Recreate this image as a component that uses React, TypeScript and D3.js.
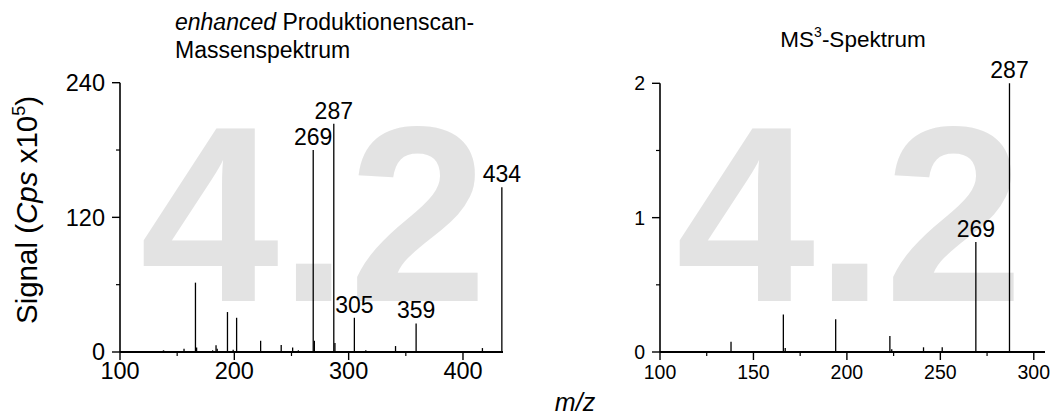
import React from "react";
import * as d3 from "d3";

// ---- data: enhanced product ion scan (left) ----
const leftMz = [138, 139, 156, 166, 167, 181, 184, 185, 194, 199, 202, 223, 241, 251, 256, 269, 270, 287, 288, 305, 315, 323, 341, 359, 373, 392, 417, 434];
const leftInt = [1.5, 1, 3, 61.8, 4, 1.5, 6, 3, 35.6, 2, 30.5, 10, 6.2, 4, 1.5, 180, 10, 203.5, 8, 30.5, 1.5, 1, 5.3, 25.5, 1, 1, 3.5, 146.8];
const leftLabels = [269, 287, 305, 359, 434];
const leftXTicks = [100, 200, 300, 400];
const leftXMinor = [150, 250, 350];
const leftYTicks = [0, 120, 240];
const leftYMinor = [60, 180];

// ---- data: MS3 spectrum (right) ----
const rightMz = [138, 166, 167, 194, 223, 224, 241, 251, 269, 287];
const rightInt = [0.077, 0.28, 0.03, 0.243, 0.119, 0.02, 0.035, 0.035, 0.818, 2.0];
const rightLabels = [269, 287];
const rightXTicks = [100, 150, 200, 250, 300];
const rightXMinor = [125, 175, 225, 275];
const rightYTicks = [0, 1, 2];
const rightYMinor = [0.5, 1.5];

const FONT = "'Liberation Sans', Arial, sans-serif";

type PanelProps = {
  mz: number[];
  inten: number[];
  labels: number[];
  xDomain: [number, number];
  xRange: [number, number];
  yDomain: [number, number];
  yRange: [number, number];
  xTicks: number[];
  xMinor: number[];
  yTicks: number[];
  yMinor: number[];
  tickFont: number;
  watermarkX: number;
};

function Panel(p: PanelProps) {
  const x = d3.scaleLinear().domain(p.xDomain).range(p.xRange);
  const y = d3.scaleLinear().domain(p.yDomain).range(p.yRange);
  const x0 = p.xRange[0];
  const y0 = p.yRange[0];
  const major = 8;
  const minor = 4;
  return (
    <g>
      <text x={p.watermarkX} y={301} fontSize={250} fontWeight="bold" fill="#e3e3e3" fontFamily={FONT}>4.2</text>
      {/* peaks */}
      {p.mz.map((m, i) => (
        <line key={"pk" + i} x1={x(m)} x2={x(m)} y1={y(0)} y2={y(p.inten[i])} stroke="#000" strokeWidth={1.3} />
      ))}
      {/* peak labels */}
      {p.labels.map((m) => {
        const idx = p.mz.indexOf(m);
        return (
          <text key={"lb" + m} x={x(m)} y={y(p.inten[idx]) - 5} textAnchor="middle" fontSize={23} fontFamily={FONT} fill="#000">{m}</text>
        );
      })}
      {/* axes */}
      <line x1={x0} x2={p.xRange[1]} y1={y0} y2={y0} stroke="#000" strokeWidth={2} />
      <line x1={x0} x2={x0} y1={y0} y2={p.yRange[1]} stroke="#000" strokeWidth={1.6} />
      {p.xTicks.map((t) => (
        <g key={"xt" + t}>
          <line x1={x(t)} x2={x(t)} y1={y0} y2={y0 + major} stroke="#000" strokeWidth={1.4} />
          <text x={x(t)} y={y0 + 27} textAnchor="middle" fontSize={p.tickFont} fontFamily={FONT}>{t}</text>
        </g>
      ))}
      {p.xMinor.map((t) => (
        <line key={"xm" + t} x1={x(t)} x2={x(t)} y1={y0} y2={y0 + minor} stroke="#000" strokeWidth={1.2} />
      ))}
      {p.yTicks.map((t) => (
        <g key={"yt" + t}>
          <line x1={x0 - major} x2={x0} y1={y(t)} y2={y(t)} stroke="#000" strokeWidth={1.4} />
          <text x={x0 - 15} y={y(t)} dy="0.36em" textAnchor="end" fontSize={p.tickFont} fontFamily={FONT}>{t}</text>
        </g>
      ))}
      {p.yMinor.map((t) => (
        <line key={"ym" + t} x1={x0 - minor} x2={x0} y1={y(t)} y2={y(t)} stroke="#000" strokeWidth={1.2} />
      ))}
    </g>
  );
}

export default function App() {
  return (
    <svg width={1052} height={414} style={{ position: "absolute", left: 0, top: 0, background: "#fff" }} fontFamily={FONT}>
      <rect width={1052} height={414} fill="#fff" />
      <Panel
        mz={leftMz} inten={leftInt} labels={leftLabels}
        xDomain={[100, 435]} xRange={[120, 503]}
        yDomain={[0, 240]} yRange={[352, 82.7]}
        xTicks={leftXTicks} xMinor={leftXMinor} yTicks={leftYTicks} yMinor={leftYMinor}
        tickFont={23.5} watermarkX={140}
      />
      <Panel
        mz={rightMz} inten={rightInt} labels={rightLabels}
        xDomain={[100, 306]} xRange={[660, 1045]}
        yDomain={[0, 2]} yRange={[352, 83.3]}
        xTicks={rightXTicks} xMinor={rightXMinor} yTicks={rightYTicks} yMinor={rightYMinor}
        tickFont={19.5} watermarkX={676}
      />
      {/* titles */}
      <text x={175} y={30} fontSize={23}>
        <tspan fontStyle="italic">enhanced</tspan> Produktionenscan-
      </text>
      <text x={175} y={58} fontSize={23}>Massenspektrum</text>
      <text x={853} y={47} fontSize={22.5} textAnchor="middle">
        MS<tspan fontSize={14} dy={-10}>3</tspan><tspan dy={10}>-Spektrum</tspan>
      </text>
      {/* y axis label */}
      <text transform="translate(37,210) rotate(-90)" textAnchor="middle" fontSize={29.5}>
        Signal (<tspan fontStyle="italic">Cps</tspan> x10<tspan fontSize={18} dy={-12}>5</tspan><tspan dy={12}>)</tspan>
      </text>
      {/* x axis label */}
      <text x={575} y={411} textAnchor="middle" fontSize={25} fontStyle="italic">m/z</text>
    </svg>
  );
}
